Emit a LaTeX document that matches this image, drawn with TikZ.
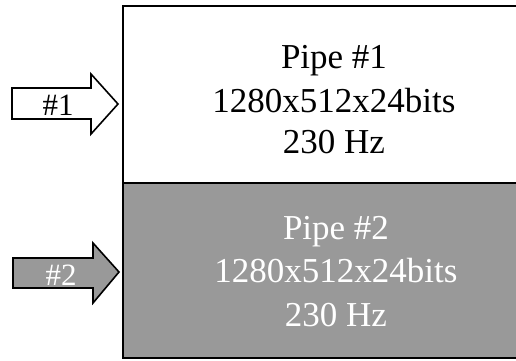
\documentclass[tikz,border=0pt]{standalone}
\usepackage{fontspec}
\setmainfont{Liberation Serif}
\definecolor{pipegray}{RGB}{153,153,153}
\begin{document}
\begin{tikzpicture}[x=1pt,y=-1pt,
  pipetext/.style={anchor=base,inner sep=0pt,font=\fontsize{35}{42}\selectfont},
  arrowtext/.style={anchor=base,inner sep=0pt,font=\fontsize{31}{36}\selectfont},
  outline/.style={draw=black,line width=2pt},
  arrowline/.style={draw=black,line width=1.6pt,line join=miter}]
\useasboundingbox (0,0) rectangle (516,360);
% pipe boxes
\path[outline,fill=white] (123,6) rectangle (560,183);
\path[outline,fill=pipegray] (123,183) rectangle (560,358);
% texts of pipe 1
\node[pipetext] (p1a) at (334,68) {Pipe \#1};
\node[pipetext] (p1b) at (334,112) {1280x512x24bits};
\node[pipetext] (p1c) at (334,153) {230 Hz};
% texts of pipe 2
\node[pipetext,text=white] (p2a) at (336,239) {Pipe \#2};
\node[pipetext,text=white] (p2b) at (336,282) {1280x512x24bits};
\node[pipetext,text=white] (p2c) at (336,326) {230 Hz};
% arrow 1
\path[arrowline,fill=white] (12,88) -- (91,88) -- (91,74) -- (118,104) -- (91,134) -- (91,119) -- (12,119) -- cycle;
\node[arrowtext] (a1) at (58,115) {\#1};
% arrow 2
\path[arrowline,fill=pipegray] (13,258) -- (93,258) -- (93,243) -- (119,272) -- (93,303) -- (93,288) -- (13,288) -- cycle;
\node[arrowtext,text=white] (a2) at (61,285) {\#2};
\end{tikzpicture}
\end{document}
